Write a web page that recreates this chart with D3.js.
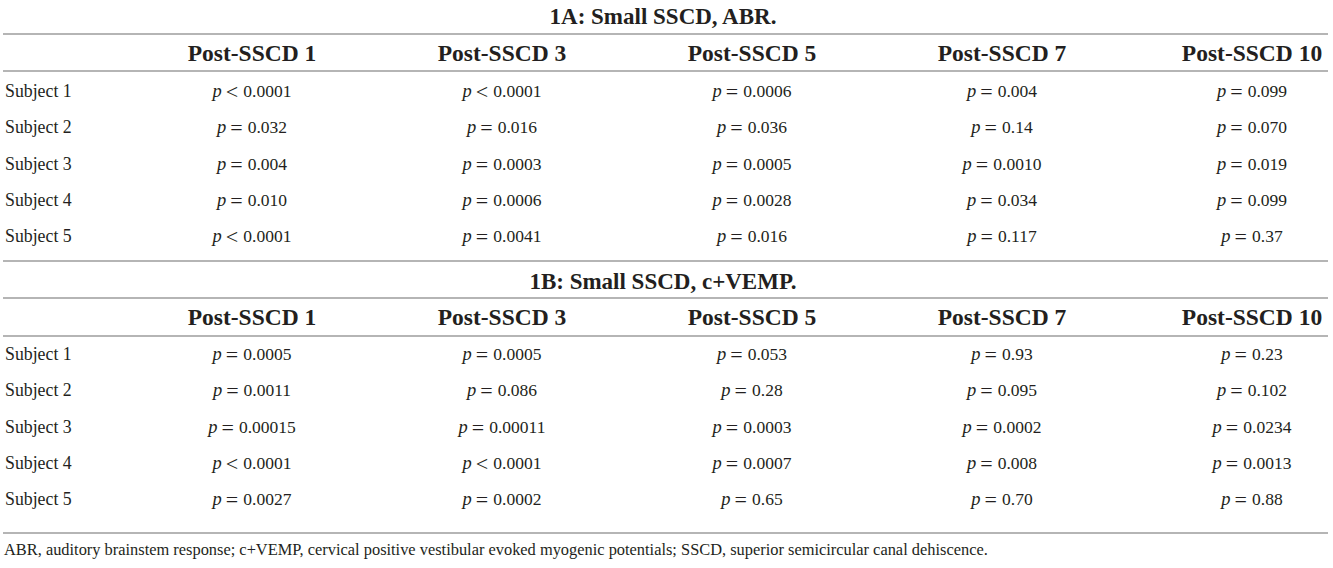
<!DOCTYPE html>
<html>
<head>
<meta charset="utf-8">
<script src="https://cdn.jsdelivr.net/npm/d3@7"></script>
<style>
body{margin:0;background:#fff;}
svg text{font-family:"Liberation Serif","Times New Roman",serif;fill:#231f20;}
</style>
</head>
<body>
<svg id="tbl"></svg>
<script>
var width=1333, height=568;

var columns=["Post-SSCD 1","Post-SSCD 3","Post-SSCD 5","Post-SSCD 7","Post-SSCD 10"];
var subjects=["Subject 1","Subject 2","Subject 3","Subject 4","Subject 5"];

var titleA="1A: Small SSCD, ABR.";
var valuesA=[
  ["< 0.0001","< 0.0001","= 0.0006","= 0.004","= 0.099"],
  ["= 0.032","= 0.016","= 0.036","= 0.14","= 0.070"],
  ["= 0.004","= 0.0003","= 0.0005","= 0.0010","= 0.019"],
  ["= 0.010","= 0.0006","= 0.0028","= 0.034","= 0.099"],
  ["< 0.0001","= 0.0041","= 0.016","= 0.117","= 0.37"]
];

var titleB="1B: Small SSCD, c+VEMP.";
var valuesB=[
  ["= 0.0005","= 0.0005","= 0.053","= 0.93","= 0.23"],
  ["= 0.0011","= 0.086","= 0.28","= 0.095","= 0.102"],
  ["= 0.00015","= 0.00011","= 0.0003","= 0.0002","= 0.0234"],
  ["< 0.0001","< 0.0001","= 0.0007","= 0.008","= 0.0013"],
  ["= 0.0027","= 0.0002","= 0.65","= 0.70","= 0.88"]
];

var footnote="ABR, auditory brainstem response; c+VEMP, cervical positive vestibular evoked myogenic potentials; SSCD, superior semicircular canal dehiscence.";

var svg=d3.select("#tbl").attr("width",width).attr("height",height);

var xScale=d3.scalePoint()
             .domain(columns)
             .range([252,1252]);

var lineColor="#b5b5b5";
var hline=function(y){
  svg.append("line")
     .attr("x1",3).attr("x2",1328)
     .attr("y1",y).attr("y2",y)
     .attr("stroke",lineColor)
     .attr("stroke-width",2);
}

// one block of the table
var section=function(title,values,pos){
  var yScale=d3.scalePoint()
               .domain(subjects)
               .range([pos.firstRow,pos.lastRow]);

  svg.append("text")
     .attr("x",663).attr("y",pos.title)
     .attr("text-anchor","middle")
     .attr("dominant-baseline","central")
     .attr("font-weight","bold")
     .attr("font-size",23)
     .text(title);

  hline(pos.top);

  svg.selectAll(null)
     .data(columns)
     .enter()
     .append("text")
     .attr("x",function(d){return xScale(d);})
     .attr("y",pos.header)
     .attr("text-anchor","middle")
     .attr("dominant-baseline","central")
     .attr("font-weight","bold")
     .attr("font-size",23.5)
     .text(function(d){return d;});

  hline(pos.headLine);

  svg.selectAll(null)
     .data(subjects)
     .enter()
     .append("text")
     .attr("x",5)
     .attr("y",function(d){return yScale(d);})
     .attr("dominant-baseline","central")
     .attr("font-size",17.8)
     .text(function(d){return d;});

  var cells=[];
  values.forEach(function(row,i){
    row.forEach(function(v,j){
      var parts=v.split(" ");
      cells.push({subject:subjects[i],col:columns[j],op:parts[0],num:parts[1]});
    });
  });

  var t=svg.selectAll(null)
     .data(cells)
     .enter()
     .append("text")
     .attr("x",function(d){return xScale(d.col);})
     .attr("y",function(d){return yScale(d.subject);})
     .attr("text-anchor","middle")
     .attr("dominant-baseline","central")
     .attr("font-size",17.5);
  t.append("tspan").attr("font-style","italic").attr("font-size",18.5).text("p");
  t.append("tspan").attr("dx",4).attr("font-size",22).text(function(d){return d.op;});
  t.append("tspan").attr("dx",5).text(function(d){return d.num;});

  hline(pos.bottom);
}

section(titleA,valuesA,{title:16,top:34,header:53,headLine:71,firstRow:91,lastRow:236,bottom:261});
section(titleB,valuesB,{title:281,top:298,header:317,headLine:336,firstRow:354,lastRow:499,bottom:533});

svg.append("text")
   .attr("x",4).attr("y",549)
   .attr("dominant-baseline","central")
   .attr("font-size",16.4)
   .text(footnote);
</script>
</body>
</html>
